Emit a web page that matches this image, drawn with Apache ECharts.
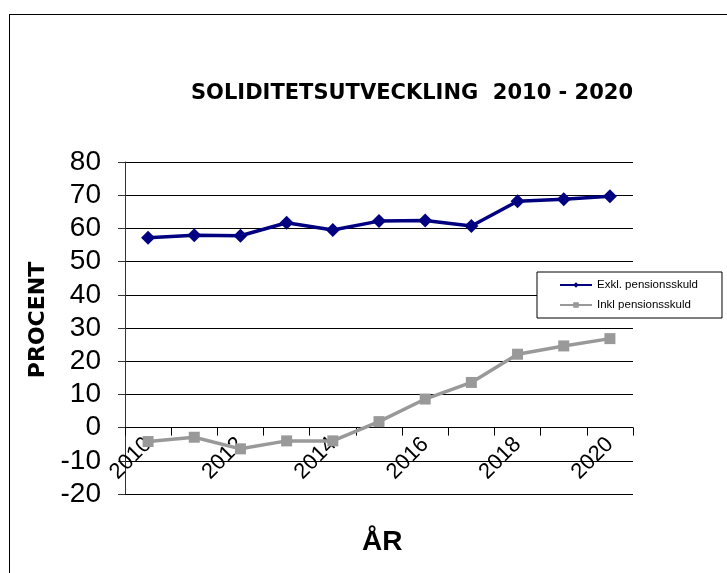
<!DOCTYPE html>
<html>
<head>
<meta charset="utf-8">
<script src="https://cdn.jsdelivr.net/npm/echarts@6/dist/echarts.min.js"></script>
<style>
  html, body { margin: 0; padding: 0; background: #fff; }
  #frame {
    position: absolute; left: 9px; top: 14px;
    width: 800px; height: 700px;
    border: 1px solid #000;
  }
  #soliditetChart { position: absolute; left: 0; top: 0; width: 727px; height: 573px; }
</style>
</head>
<body>
<div id="frame"></div>
<div id="soliditetChart"></div>
<script>
// years on x axis
const years = ['2010', '2011', '2012', '2013', '2014', '2015', '2016', '2017', '2018', '2019', '2020'];
// soliditet excluding pension debt (%)
const exklPension = [57.2, 57.9, 57.8, 61.7, 59.5, 62.2, 62.4, 60.7, 68.2, 68.8, 69.7];
// soliditet including pension debt (%)
const inklPension = [-4.2, -2.9, -6.4, -4.0, -4.0, 1.8, 8.6, 13.6, 22.1, 24.6, 26.8];
const seriesNames = ['Exkl. pensionsskuld', 'Inkl pensionsskuld'];
const lineColors = ['#000080', '#999999'];

const font = '"Liberation Sans", Arial, sans-serif';
const wideFont = '"DejaVu Sans", sans-serif';
let chart = echarts.init(document.getElementById('soliditetChart'));

let options = {
  animation: false,
  textStyle: { fontFamily: font },
  title: {
    text: 'SOLIDITETSUTVECKLING  2010 - 2020',
    left: 186,
    top: 78,
    textStyle: { fontFamily: wideFont, fontSize: 21, fontWeight: 'bold', color: '#000' },
  },
  graphic: [
    {
      type: 'text',
      left: 362,
      top: 528,
      style: { text: 'ÅR', font: 'bold 28px "Liberation Sans", Arial, sans-serif', fill: '#000' },
    },
  ],
  legend: {
    data: seriesNames,
    orient: 'vertical',
    left: 537,
    top: 272,
    padding: [7, 24, 7, 22],
    itemGap: 8,
    itemWidth: 32,
    itemHeight: 7,
    borderColor: '#000',
    borderWidth: 1,
    backgroundColor: '#fff',
    textStyle: { fontFamily: font, fontSize: 11.5, color: '#000' },
  },
  grid: { left: 125, top: 162, right: 94, bottom: 79, containLabel: false, outerBoundsMode: 'none' },
  xAxis: {
    type: 'category',
    data: years,
    boundaryGap: true,
    axisLine: { onZero: true, lineStyle: { color: '#000', width: 1 } },
    axisTick: { show: true, length: 8, interval: 0, lineStyle: { color: '#000' } },
    axisLabel: { interval: 1, rotate: 45, fontSize: 22, color: '#000', margin: -53 },
    splitLine: { show: false },
  },
  yAxis: {
    type: 'value',
    min: -20,
    max: 80,
    interval: 10,
    name: 'PROCENT',
    nameLocation: 'middle',
    nameRotate: 90,
    nameGap: 75,
    nameTextStyle: { fontFamily: wideFont, fontSize: 22, fontWeight: 'bold', color: '#000', padding: [0, 0, 0, 16] },
    axisLine: { show: true, lineStyle: { color: '#333', width: 1 } },
    axisTick: { show: true, length: 7, lineStyle: { color: '#333' } },
    axisLabel: { fontSize: 28, color: '#000', margin: 24 },
    splitLine: { show: true, lineStyle: { color: '#000', width: 1 } },
  },
  series: [
    {
      name: seriesNames[0],
      type: 'line',
      data: exklPension,
      color: lineColors[0],
      symbol: 'diamond',
      symbolSize: 14,
      lineStyle: { width: 3.5 },
      z: 3,
    },
    {
      name: seriesNames[1],
      type: 'line',
      data: inklPension,
      color: lineColors[1],
      symbol: 'rect',
      symbolSize: 11,
      lineStyle: { width: 3.5 },
      z: 3,
    },
  ],
};

chart.setOption(options);
</script>
</body>
</html>
